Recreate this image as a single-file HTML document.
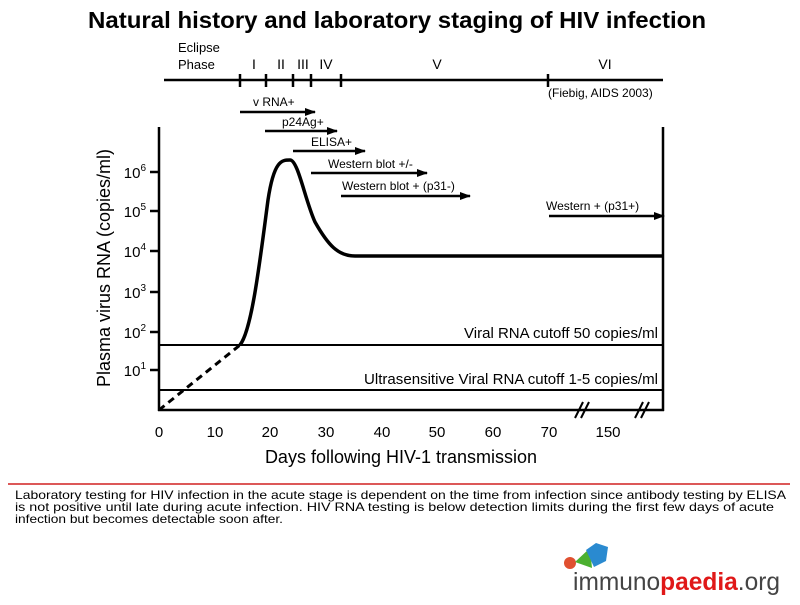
<!DOCTYPE html>
<html><head><style>
body{margin:0;background:#fff;}
svg text{font-family:"Liberation Sans",Arial,sans-serif;fill:#000;}
</style></head><body>
<svg width="800" height="600" viewBox="0 0 800 600" xmlns="http://www.w3.org/2000/svg">
<defs><marker id="a" markerUnits="userSpaceOnUse" markerWidth="11" markerHeight="8" refX="10" refY="4" orient="auto"><path d="M0,0 L11,4 L0,8 z" fill="#000"/></marker></defs>
<text x="397" y="28" text-anchor="middle" font-size="23.5" font-weight="bold" textLength="618" lengthAdjust="spacingAndGlyphs">Natural history and laboratory staging of HIV infection</text>
<!-- timeline -->
<text x="178" y="52" font-size="13">Eclipse</text>
<text x="178" y="69" font-size="13">Phase</text>
<g font-size="14" text-anchor="middle">
<text x="254" y="69">I</text><text x="281" y="69">II</text><text x="303" y="69">III</text><text x="326" y="69">IV</text><text x="437" y="69">V</text><text x="605" y="69">VI</text></g>
<line x1="164" y1="80" x2="663" y2="80" stroke="#000" stroke-width="2.5"/>
<g stroke="#000" stroke-width="2.5"><line x1="240" y1="74" x2="240" y2="87"/><line x1="266" y1="74" x2="266" y2="87"/><line x1="293" y1="74" x2="293" y2="87"/><line x1="311" y1="74" x2="311" y2="87"/><line x1="341" y1="74" x2="341" y2="87"/><line x1="548" y1="74" x2="548" y2="87"/></g>
<text x="548" y="97" font-size="12">(Fiebig, AIDS 2003)</text>
<!-- arrows -->
<g stroke="#000" stroke-width="2.5" marker-end="url(#a)">
<line x1="240" y1="112" x2="315" y2="112"/><line x1="265" y1="131" x2="337" y2="131"/><line x1="293" y1="151" x2="365" y2="151"/><line x1="311" y1="173" x2="427" y2="173"/><line x1="341" y1="196" x2="470" y2="196"/><line x1="549" y1="216" x2="664" y2="216"/></g>
<g font-size="12"><text x="253" y="106">v RNA+</text><text x="282" y="126">p24Ag+</text><text x="311" y="146">ELISA+</text><text x="328" y="168">Western blot +/-</text><text x="342" y="190">Western blot + (p31-)</text><text x="546" y="210">Western + (p31+)</text></g>
<!-- axes -->
<g stroke="#000" stroke-width="2.5" fill="none">
<line x1="159" y1="127" x2="159" y2="411"/><line x1="663" y1="127" x2="663" y2="411"/><line x1="158" y1="410" x2="664" y2="410"/>
<line x1="150" y1="172" x2="159" y2="172"/><line x1="150" y1="211" x2="159" y2="211"/><line x1="150" y1="251" x2="159" y2="251"/><line x1="150" y1="292" x2="159" y2="292"/><line x1="150" y1="332" x2="159" y2="332"/><line x1="150" y1="370" x2="159" y2="370"/>
<line x1="159" y1="345" x2="663" y2="345" stroke-width="2"/><line x1="159" y1="390" x2="663" y2="390" stroke-width="2"/>
<line x1="159" y1="410" x2="240" y2="345" stroke-dasharray="7,5" stroke-width="3"/>
<path d="M240,345 C252,330 260,260 268,200 C274,160 282,160 290,160 C298,160 305,200 315,222 C328,245 338,256 355,256 L663,256" stroke-width="3.5"/>
<line x1="575" y1="418" x2="583" y2="402" stroke-width="2"/><line x1="581" y1="418" x2="589" y2="402" stroke-width="2"/>
<line x1="635" y1="418" x2="643" y2="402" stroke-width="2"/><line x1="641" y1="418" x2="649" y2="402" stroke-width="2"/>
</g>
<g font-size="15" text-anchor="end">
<text x="146" y="178">10<tspan font-size="10" dy="-7">6</tspan></text>
<text x="146" y="217">10<tspan font-size="10" dy="-7">5</tspan></text>
<text x="146" y="257">10<tspan font-size="10" dy="-7">4</tspan></text>
<text x="146" y="298">10<tspan font-size="10" dy="-7">3</tspan></text>
<text x="146" y="338">10<tspan font-size="10" dy="-7">2</tspan></text>
<text x="146" y="376">10<tspan font-size="10" dy="-7">1</tspan></text></g>
<text transform="translate(110,268) rotate(-90)" text-anchor="middle" font-size="18">Plasma virus RNA (copies/ml)</text>
<g font-size="15" text-anchor="middle">
<text x="159" y="437">0</text><text x="215" y="437">10</text><text x="270" y="437">20</text><text x="326" y="437">30</text><text x="382" y="437">40</text><text x="437" y="437">50</text><text x="493" y="437">60</text><text x="549" y="437">70</text><text x="608" y="437">150</text></g>
<text x="401" y="463" text-anchor="middle" font-size="18">Days following HIV-1 transmission</text>
<text x="464" y="338" font-size="14.5" textLength="194" lengthAdjust="spacingAndGlyphs">Viral RNA cutoff 50 copies/ml</text>
<text x="364" y="384" font-size="14.5" textLength="294" lengthAdjust="spacingAndGlyphs">Ultrasensitive Viral RNA cutoff 1-5 copies/ml</text>
<line x1="8" y1="484" x2="790" y2="484" stroke="#d02020" stroke-width="1.5"/>
<g font-size="12"><text x="15" y="499" textLength="771" lengthAdjust="spacingAndGlyphs">Laboratory testing for HIV infection in the acute stage is dependent on the time from infection since antibody testing by ELISA</text>
<text x="15" y="511" textLength="759" lengthAdjust="spacingAndGlyphs">is not positive until late during acute infection. HIV RNA testing is below detection limits during the first few days of acute</text>
<text x="15" y="523" textLength="268" lengthAdjust="spacingAndGlyphs">infection but becomes detectable soon after.</text></g>
<!-- logo -->
<circle cx="570" cy="563" r="6" fill="#e05030"/>
<polygon points="575,562 590,548 592,568" fill="#4cb030"/>
<polygon points="586,550 596,543 608,547 606,561 594,567" fill="#2a8ad0"/>
<text x="573" y="590" font-size="25" textLength="207" lengthAdjust="spacingAndGlyphs"><tspan fill="#444">immuno</tspan><tspan fill="#e01818" font-weight="bold">paedia</tspan><tspan fill="#444">.org</tspan></text>
</svg>
</body></html>
